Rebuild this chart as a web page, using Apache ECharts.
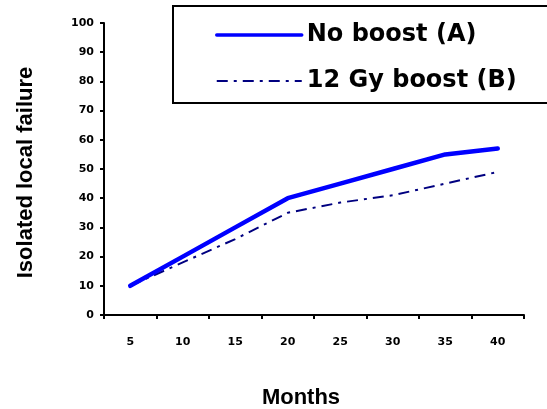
<!DOCTYPE html>
<html>
<head>
<meta charset="utf-8">
<script src="https://cdn.jsdelivr.net/npm/echarts@6/dist/echarts.min.js"></script>
<style>
html,body{margin:0;padding:0;background:#fff;}
#chart{width:547px;height:409px;}
</style>
</head>
<body>
<div id="chart"></div>
<script>
var months = ['5','10','15','20','25','30','35','40'];
var noBoost = [10, 20, 30, 40, 45, 50, 55, 57];
var gyBoost = [10, 18, 26, 35, 38.5, 41, 45, 49];
var yTicks = {min: 0, max: 100, interval: 10};
var seriesNames = ['No boost (A)', '12 Gy boost (B)'];

var chart = echarts.init(document.getElementById('chart'), null, {renderer: 'canvas'});
var tickFont = {fontFamily: 'DejaVu Sans', fontWeight: 'bold', fontSize: 11, color: '#000'};
chart.setOption({
  animation: false,
  backgroundColor: '#fff',
  graphic: [{
    type: 'rect',
    z: 1,
    shape: {x: 173, y: 6, width: 420, height: 97},
    style: {fill: '#fff', stroke: '#000', lineWidth: 2}
  }],
  legend: {
    orient: 'vertical',
    left: 215,
    top: 23,
    padding: 0,
    itemGap: 22,
    itemWidth: 85,
    itemHeight: 14,
    z: 5,
    itemStyle: {opacity: 0},
    textStyle: {fontFamily: 'DejaVu Sans', fontWeight: 'bold', fontSize: 24, color: '#000'},
    data: [
      {name: seriesNames[0], lineStyle: {width: 3.5}},
      {name: seriesNames[1], lineStyle: {width: 2}}
    ]
  },
  grid: {left: 104, right: 23, top: 23, bottom: 94, containLabel: false, outerBoundsMode: 'none'},
  xAxis: {
    type: 'category',
    data: months,
    boundaryGap: true,
    name: 'Months',
    nameLocation: 'middle',
    nameGap: 72,
    nameTextStyle: {fontFamily: 'Liberation Sans', fontWeight: 'bold', fontSize: 22, color: '#000', padding: [0, 26, 0, 0]},
    axisLine: {lineStyle: {color: '#000', width: 2}},
    axisTick: {show: true, inside: false, length: 4, alignWithLabel: false, lineStyle: {color: '#000', width: 2}},
    axisLabel: Object.assign({margin: 22, interval: 0}, tickFont),
    splitLine: {show: false}
  },
  yAxis: {
    type: 'value',
    min: yTicks.min,
    max: yTicks.max,
    interval: yTicks.interval,
    name: 'Isolated local failure',
    nameLocation: 'middle',
    nameGap: 67,
    nameTextStyle: {fontFamily: 'Liberation Sans', fontWeight: 'bold', fontSize: 22, color: '#000', padding: [0, 7, 0, 0]},
    axisLine: {show: true, lineStyle: {color: '#000', width: 2}},
    axisTick: {show: true, inside: false, length: 4, lineStyle: {color: '#000', width: 2}},
    axisLabel: Object.assign({margin: 10}, tickFont),
    splitLine: {show: false}
  },
  series: [{
    name: seriesNames[0],
    type: 'line',
    data: noBoost,
    symbol: 'none',
    z: 3,
    lineStyle: {color: '#0000FF', width: 4.5, cap: 'round', join: 'round'},
    itemStyle: {color: '#0000FF'}
  }, {
    name: seriesNames[1],
    type: 'line',
    data: gyBoost,
    symbol: 'none',
    z: 2,
    lineStyle: {color: '#000080', width: 2, type: [11, 6, 3, 6]},
    itemStyle: {color: '#000080'}
  }]
});
</script>
</body>
</html>
